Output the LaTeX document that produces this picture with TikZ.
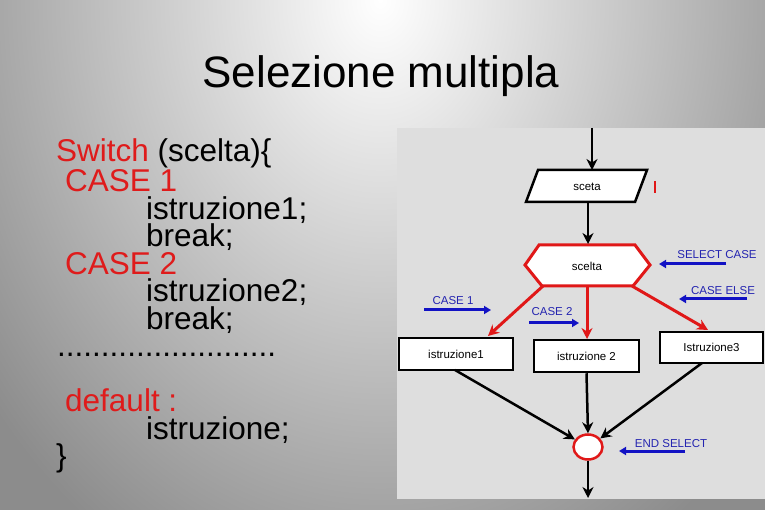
\documentclass[tikz,border=0pt]{standalone}
\usepackage{fontspec}
\setmainfont{Liberation Sans}
\usetikzlibrary{arrows.meta,shapes.geometric}
\definecolor{bgout}{gray}{0.55}
\definecolor{panel}{gray}{0.87}
\definecolor{codered}{HTML}{DF1B1B}
\definecolor{flowred}{HTML}{E01818}
\definecolor{lblblue}{HTML}{2424B0}
\definecolor{arrblue}{HTML}{1212C4}
\begin{document}
\begin{tikzpicture}[x=1pt,y=-1pt,
  ftext/.style={font=\fontsize{11.5}{12}\selectfont},
  lbl/.style={text=lblblue,inner sep=0pt,font=\fontsize{11.5}{12}\selectfont},
  blk/.style={draw=black,line width=2.5pt,-{Stealth[length=11pt,width=11pt]}},
  redarr/.style={draw=flowred,line width=3pt,-{Stealth[length=11pt,width=11pt]}},
  bluearr/.style={draw=arrblue,line width=3pt,-{Triangle[length=7pt,width=8pt]}},
  boxn/.style={draw=black,line width=2.5pt,fill=white,ftext,inner sep=0pt}]
\useasboundingbox (0,0) rectangle (765,510);
\begin{scope}
  \clip (0,0) rectangle (765,510);
  \fill[bgout] (0,0) rectangle (765,510);
  \shade[inner color=white,outer color=bgout] (380,0) ellipse [x radius=500pt, y radius=640pt];
\end{scope}
% title
\node[anchor=base,inner sep=0pt,font=\fontsize{44}{48}\selectfont] (title) at (381,88) {Selezione multipla};
% code
\node[anchor=base west,inner sep=0pt,align=left,font=\fontsize{31.5}{27.5}\selectfont] (code) at (56,466.5)
{\textcolor{codered}{Switch} (scelta)\{\\
\hspace*{9pt}\textcolor{codered}{CASE 1}\\
\hspace*{90pt}istruzione1;\\
\hspace*{90pt}break;\\
\hspace*{9pt}\textcolor{codered}{CASE 2}\\
\hspace*{90pt}istruzione2;\\
\hspace*{90pt}break;\\
\hspace*{1pt}.........................\\[27.5pt]
\hspace*{9pt}\textcolor{codered}{default :}\\
\hspace*{90pt}istruzione;\\
\}};
% panel
\fill[panel] (397,128) rectangle (765,499);
% input parallelogram
\draw[line width=2.5pt,fill=white] (526,202) -- (538,170) -- (647,170) -- (635,202) -- cycle;
\node[ftext,inner sep=0pt] (inp) at (587,187) {sceta};
\draw[flowred,line width=1.6pt] (655,181) -- (655,193);
% hexagon
\draw[flowred,line width=3pt,fill=white] (525,265) -- (539,245) -- (635,245) -- (650,265) -- (633,286) -- (542,286) -- cycle;
\node[ftext,inner sep=0pt] (sel) at (587,266) {scelta};
% boxes
\node[boxn,minimum width=114,minimum height=32] (b1) at (456,354) {istruzione1};
\node[boxn,minimum width=105,minimum height=32] (b2) at (586.5,356) {istruzione 2};
\node[boxn,minimum width=103,minimum height=31] (b3) at (711.5,347.5) {Istruzione3};
% end circle
\node[ellipse,draw=flowred,line width=2.5pt,fill=white,minimum width=29,minimum height=25,inner sep=0pt] (endc) at (588,447) {};
% coordinates
\coordinate (t0) at (592,128);
\coordinate (t1) at (592,170);
\coordinate (p0) at (588,202);
\coordinate (h0) at (588,244);
\coordinate (hbl) at (543,286);
\coordinate (hbc) at (587,286);
\coordinate (hbr) at (632,286);
\coordinate (o1) at (455,370);
\coordinate (o3) at (702,363);
\coordinate (bot) at (588,498);
% black arrows
\draw[blk] (t0) -- (t1);
\draw[blk] (p0) -- (h0);
\draw[blk] (o1) -- (endc.150);
\draw[blk] (b2.south) -- (endc.north);
\draw[blk] (o3) -- (endc.35);
\draw[blk] (endc.south) -- (bot);
% red arrows
\draw[redarr] (hbl) -- (488,336);
\draw[redarr] (hbc) -- (587,339);
\draw[redarr] (hbr) -- (708,330);
% blue labels
\node[lbl,anchor=base] (lsc) at (717,259) {SELECT CASE};
\coordinate (sa) at (726,264); \coordinate (sb) at (659,264);
\draw[bluearr] (sa) -- (sb);
\node[lbl,anchor=base] (lce) at (723,295) {CASE ELSE};
\coordinate (ea) at (747,299); \coordinate (eb) at (679,299);
\draw[bluearr] (ea) -- (eb);
\node[lbl,anchor=base] (lc1) at (453,305) {CASE 1};
\coordinate (c1a) at (424,310); \coordinate (c1b) at (491,310);
\draw[bluearr] (c1a) -- (c1b);
\node[lbl,anchor=base] (lc2) at (552,316) {CASE 2};
\coordinate (c2a) at (529,323); \coordinate (c2b) at (579,323);
\draw[bluearr] (c2a) -- (c2b);
\node[lbl,anchor=base] (les) at (671,447) {END SELECT};
\coordinate (da) at (685,451); \coordinate (db) at (619,451);
\draw[bluearr] (da) -- (db);
\end{tikzpicture}
\end{document}
